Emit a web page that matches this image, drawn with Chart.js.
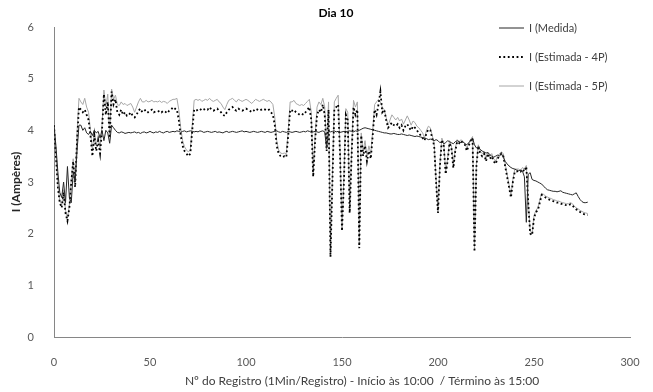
<!DOCTYPE html>
<html>
<head>
<meta charset="utf-8">
<script src="https://cdn.jsdelivr.net/npm/chart.js@4"></script>
<style>
  html, body { margin: 0; padding: 0; background: #fff; }
</style>
</head>
<body>
<canvas id="chart" width="653" height="392"></canvas>
<script>
// Valores (Dia 10), um valor por registro (0..278)
const medida = [
  4.1, 3.7, 3.2, 2.8, 2.7, 3.0, 2.6, 3.3, 2.7, 2.6,
  3.2, 3.0, 3.6, 4.1, 4.1, 4.0, 4.05, 3.95, 3.92, 3.98,
  3.9, 4.0, 3.95, 3.98, 3.85, 4.0, 3.8, 4.0, 3.95, 3.75,
  4.1, 4.05, 4.0, 3.96, 3.95, 3.97, 3.96, 3.94, 3.95, 3.96,
  3.95, 3.96, 3.97, 3.95, 3.96, 3.94, 3.96, 3.97, 3.95, 3.96,
  3.98, 3.96, 3.95, 3.97, 3.96, 3.98, 3.96, 3.95, 3.97, 3.98,
  3.96, 3.97, 3.98, 3.97, 3.99, 3.98, 3.96, 3.98, 3.99, 3.97,
  3.98, 3.99, 3.98, 3.97, 3.98, 3.97, 3.99, 3.98, 3.96, 3.97,
  3.98, 3.97, 3.96, 3.97, 3.98, 3.96, 3.97, 3.96, 3.95, 3.97,
  3.98, 3.96, 3.97, 3.98, 3.97, 3.96, 3.97, 3.98, 3.99, 3.97,
  3.98, 3.97, 3.96, 3.97, 3.98, 3.97, 3.96, 3.97, 3.98, 3.97,
  3.96, 3.98, 3.97, 3.96, 3.97, 3.98, 3.99, 3.97, 3.96, 3.98,
  3.97, 3.96, 3.98, 3.97, 3.96, 3.97, 3.98, 3.97, 3.96, 3.97,
  3.98, 3.97, 3.99, 3.98, 3.96, 3.97, 3.98, 3.97, 3.96, 3.98,
  3.99, 3.97, 3.65, 3.98, 3.97, 3.98, 3.99, 3.97, 3.98, 3.96,
  3.97, 3.98, 3.97, 3.98, 3.99, 3.98, 3.97, 3.99, 3.98, 4.0,
  4.02, 4.04, 4.05, 4.04, 4.03, 4.02, 4.01, 4.0, 3.99, 3.98,
  3.97, 3.96, 3.95, 3.95, 3.94, 3.93, 3.93, 3.94, 3.93, 3.92,
  3.92, 3.93, 3.92, 3.91, 3.9, 3.91, 3.9, 3.89, 3.88, 3.89,
  3.88, 3.87, 3.86, 3.85, 3.84, 3.82, 3.83, 3.82, 3.8, 3.82,
  3.8, 3.76, 3.78, 3.74, 3.76, 3.8, 3.78, 3.76, 3.74, 3.78,
  3.8, 3.78, 3.76, 3.78, 3.74, 3.72, 3.76, 3.8, 3.85, 3.72,
  3.66, 3.68, 3.63, 3.6, 3.58, 3.56, 3.57, 3.53, 3.5, 3.48,
  3.5, 3.52, 3.5, 3.55, 3.48, 3.4, 3.35, 3.31, 3.28, 3.26,
  3.25, 3.23, 3.22, 3.23, 3.21, 3.1, 2.22, 3.15, 3.18, 3.05,
  3.03, 3.02, 3.0, 2.98, 2.96, 2.92, 2.88, 2.85, 2.84, 2.83,
  2.82, 2.82, 2.81, 2.82, 2.83, 2.8, 2.79, 2.78, 2.77, 2.76,
  2.75, 2.77, 2.79, 2.72, 2.66, 2.62, 2.6, 2.6, 2.61
];

const estimada4P = [
  4.1, 3.5, 2.9, 2.6, 2.5, 2.8, 2.4, 2.25, 2.5, 3.0,
  3.4, 2.9, 3.8, 4.45, 4.4, 4.35, 4.4, 4.3, 4.2, 3.9,
  3.5, 3.9, 3.6, 3.8, 3.55, 4.0, 4.7, 4.3, 4.55, 3.85,
  4.75, 4.5, 4.6, 4.35, 4.3, 4.4, 4.3, 4.35, 4.28, 4.3,
  4.35, 4.28, 4.25, 4.3, 4.38, 4.42, 4.35, 4.38, 4.4, 4.35,
  4.38, 4.4, 4.35, 4.37, 4.36, 4.38, 4.35, 4.38, 4.36, 4.33,
  4.38, 4.4, 4.45, 4.42, 4.4, 4.2, 3.9, 3.7, 3.6, 3.55,
  3.5, 3.55, 4.0, 4.4, 4.38, 4.4, 4.42, 4.38, 4.4, 4.42,
  4.4, 4.45, 4.4, 4.38, 4.4, 4.42, 4.38, 4.35, 4.3, 4.28,
  4.35, 4.4, 4.42, 4.45, 4.4, 4.38, 4.42, 4.4, 4.38, 4.4,
  4.42, 4.4, 4.38, 4.35, 4.38, 4.42, 4.4, 4.38, 4.4, 4.42,
  4.4, 4.38, 4.4, 4.35, 4.3, 4.1, 3.7, 3.55, 3.5, 3.48,
  3.5, 3.48, 3.9, 4.4, 4.38, 4.4, 4.35, 4.33, 4.3, 4.32,
  4.3, 4.35, 4.4, 4.45, 4.2, 3.1, 3.8, 4.3, 4.4, 4.35,
  4.5, 4.3, 3.6, 4.4, 1.55, 3.0, 4.4, 4.45, 4.5, 3.5,
  2.05, 3.0, 4.3, 4.2, 2.4, 3.5, 4.45, 4.3, 4.4, 1.72,
  3.9, 3.5, 3.7, 3.4, 3.6, 3.45, 3.9, 4.4, 4.3, 4.5,
  4.75, 4.35, 4.4, 4.2, 4.05, 4.1, 4.15, 4.1, 4.08, 4.12,
  4.05, 4.1, 4.0, 4.08, 4.12, 4.05, 4.0, 4.08, 4.05, 4.0,
  3.95, 3.9, 3.85, 3.8, 3.95, 4.02, 4.0, 3.85, 3.7, 3.0,
  2.4, 3.3, 3.82, 3.7, 3.15, 3.4, 3.75, 3.65, 3.27, 3.6,
  3.78, 3.75, 3.8, 3.75, 3.72, 3.6, 3.7, 3.8, 3.85, 1.65,
  3.3, 3.7, 3.55, 3.5, 3.55, 3.4, 3.55, 3.45, 3.5, 3.4,
  3.35, 3.45, 3.5, 3.55, 3.5, 3.3, 3.1, 2.9, 2.7, 3.0,
  3.2, 3.2, 3.22, 3.2, 3.25, 3.2, 3.3, 2.6, 2.0, 1.97,
  2.3, 2.42, 2.45, 2.6, 2.75, 2.73, 2.7, 2.68, 2.66, 2.65,
  2.63, 2.62, 2.6, 2.6, 2.58, 2.57, 2.56, 2.55, 2.55, 2.57,
  2.55, 2.5, 2.47, 2.45, 2.42, 2.4, 2.38, 2.37, 2.36
];

const estimada5P = [
  4.12, 3.55, 2.95, 2.65, 2.55, 2.85, 2.45, 2.3, 2.55, 3.05,
  3.45, 3.0, 3.95, 4.62, 4.55, 4.5, 4.62, 4.45, 4.35, 4.0,
  3.6, 4.0, 3.7, 3.9, 3.65, 4.1, 4.78, 4.45, 4.7, 3.9,
  4.8, 4.6, 4.68, 4.5, 4.48, 4.55, 4.5, 4.52, 4.48, 4.5,
  4.52, 4.45, 4.35, 4.45, 4.55, 4.62, 4.55, 4.55, 4.58, 4.55,
  4.56, 4.58, 4.55, 4.56, 4.55, 4.57, 4.54, 4.56, 4.55, 4.52,
  4.56, 4.58, 4.6, 4.6, 4.62, 4.4, 4.05, 3.8, 3.68, 3.62,
  3.58, 3.62, 4.1, 4.58, 4.6, 4.58, 4.6, 4.56, 4.58, 4.6,
  4.58, 4.62, 4.58, 4.56, 4.58, 4.6, 4.55, 4.52, 4.45, 4.4,
  4.5, 4.58, 4.6, 4.62, 4.58, 4.55, 4.6, 4.58, 4.56, 4.58,
  4.6, 4.58, 4.55, 4.52, 4.56, 4.6, 4.58, 4.56, 4.58, 4.6,
  4.58, 4.56, 4.58, 4.55, 4.5, 4.25, 3.8, 3.62, 3.56, 3.55,
  3.56, 3.55, 4.0, 4.55, 4.55, 4.58, 4.52, 4.5, 4.48, 4.5,
  4.48, 4.52, 4.56, 4.6, 4.35, 3.15, 3.9, 4.45, 4.55, 4.5,
  4.62, 4.45, 3.7, 4.55, 1.6, 3.1, 4.55, 4.62, 4.68, 3.6,
  2.1, 3.1, 4.42, 4.35, 2.45, 3.6, 4.58, 4.45, 4.55, 1.78,
  3.95, 3.6, 3.8, 3.5, 3.7, 3.55, 4.0, 4.5, 4.55, 4.6,
  4.55, 4.45, 4.4, 4.25, 4.1, 4.2, 4.3, 4.25, 4.2, 4.25,
  4.18, 4.22, 4.12, 4.2, 4.28, 4.2, 4.1, 4.18, 4.15, 4.08,
  4.05, 4.0, 3.95, 3.85, 4.0, 4.08, 4.05, 3.9, 3.75, 3.05,
  2.45, 3.35, 3.85, 3.75, 3.2, 3.45, 3.8, 3.7, 3.32, 3.65,
  3.82, 3.78, 3.82, 3.78, 3.75, 3.65, 3.75, 3.82, 3.88, 1.7,
  3.35, 3.72, 3.6, 3.55, 3.58, 3.45, 3.58, 3.5, 3.55, 3.45,
  3.4, 3.5, 3.55, 3.58, 3.55, 3.35, 3.15, 2.95, 2.75, 3.05,
  3.25, 3.25, 3.25, 3.22, 3.28, 3.25, 3.32, 2.65, 2.05, 2.0,
  2.35, 2.45, 2.5, 2.65, 2.78, 2.76, 2.73, 2.71, 2.69, 2.68,
  2.66, 2.65, 2.63, 2.63, 2.61, 2.6, 2.59, 2.58, 2.58, 2.6,
  2.58, 2.53, 2.5, 2.48, 2.45, 2.43, 2.41, 2.4, 2.39
];

const nomesSeries = ['I (Medida)', 'I (Estimada - 4P)', 'I (Estimada - 5P)'];
const xTicks = [0, 50, 100, 150, 200, 250, 300];
const yTicks = [0, 1, 2, 3, 4, 5, 6];
const tituloGrafico = 'Dia 10';
const tituloX = 'Nº do Registro (1Min/Registro) - Início às 10:00  / Término às 15:00';
const tituloY = 'I (Ampères)';

const FONTE = 'Lato, "Open Sans", sans-serif';

// pontos {x: registro, y: valor}
const pontos = serie => serie.map((v, i) => ({ x: i, y: v }));

// Títulos e legenda desenhados à mão (a legenda fica dentro da área do gráfico)
const textosPlugin = {
  id: 'textos',
  afterDraw(chart) {
    const ctx = chart.ctx;
    ctx.save();
    ctx.textAlign = 'center';
    ctx.textBaseline = 'middle';
    ctx.font = 'bold 12px ' + FONTE;
    ctx.fillStyle = '#000';
    ctx.fillText(tituloGrafico, 336, 13);
    ctx.font = '12px ' + FONTE;
    ctx.fillStyle = '#404040';
    ctx.fillText(tituloX, 362, 381);
    ctx.restore();
  }
};

const legendaPlugin = {
  id: 'legendaDireita',
  afterDraw(chart) {
    const ctx = chart.ctx;
    const linhasY = [28, 57, 86];
    ctx.save();
    chart.data.datasets.forEach((ds, i) => {
      const y = linhasY[i];
      ctx.beginPath();
      ctx.strokeStyle = ds.borderColor;
      ctx.lineWidth = ds.borderWidth;
      ctx.setLineDash(ds.borderDash || []);
      ctx.moveTo(499, y);
      ctx.lineTo(524, y);
      ctx.stroke();
      ctx.setLineDash([]);
      ctx.fillStyle = '#404040';
      ctx.font = '11px ' + FONTE;
      ctx.textAlign = 'left';
      ctx.textBaseline = 'middle';
      ctx.fillText(ds.label, 529, y);
    });
    ctx.restore();
  }
};

new Chart(document.getElementById('chart'), {
  type: 'line',
  data: {
    datasets: [
      {
        label: nomesSeries[0],
        data: pontos(medida),
        borderColor: '#262626',
        borderWidth: 1,
        pointRadius: 0,
        tension: 0,
        order: 1
      },
      {
        label: nomesSeries[1],
        data: pontos(estimada4P),
        borderColor: '#000000',
        borderWidth: 1.8,
        borderDash: [1.8, 2.6],
        pointRadius: 0,
        tension: 0,
        order: 2
      },
      {
        label: nomesSeries[2],
        data: pontos(estimada5P),
        borderColor: '#a6a6a6',
        borderWidth: 1,
        pointRadius: 0,
        tension: 0,
        order: 3
      }
    ]
  },
  options: {
    responsive: false,
    animation: false,
    layout: { padding: { top: 27, right: 23, left: 0, bottom: 0 } },
    plugins: {
      legend: { display: false },
      title: { display: false },
      tooltip: { enabled: false }
    },
    scales: {
      x: {
        type: 'linear',
        min: 0,
        max: 300,
        afterBuildTicks: s => { s.ticks = xTicks.map(v => ({ value: v })); },
        afterFit: s => { s.height = 55; },
        grid: { display: false },
        border: { display: true, color: '#868686', width: 1 },
        ticks: { padding: 11, color: '#595959', font: { family: FONTE, size: 11 } },
        title: { display: false }
      },
      y: {
        min: 0,
        max: 6,
        afterBuildTicks: s => { s.ticks = yTicks.map(v => ({ value: v })); },
        afterFit: s => { s.width = 54; },
        grid: { display: false },
        border: { display: true, color: '#868686', width: 1 },
        ticks: { padding: 12, color: '#595959', font: { family: FONTE, size: 11 } },
        title: {
          display: true,
          text: tituloY,
          color: '#262626',
          font: { family: FONTE, size: 12, weight: 'bold' },
          padding: { top: 9, bottom: 0 }
        }
      }
    }
  },
  plugins: [textosPlugin, legendaPlugin]
});
</script>
</body>
</html>
